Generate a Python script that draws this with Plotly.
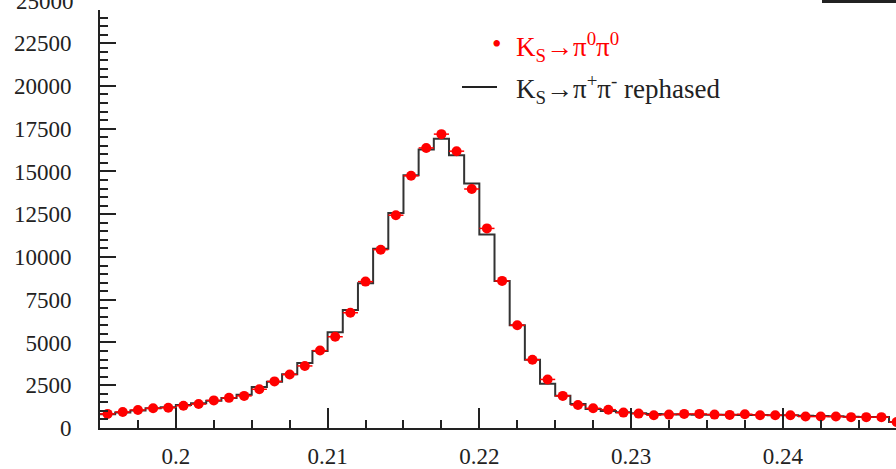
import numpy as np
import plotly.graph_objects as go

# ---- data ----
bin_width = 0.001
bin_start = 0.195
# K_S -> pi0 pi0 (red points), one per bin (bin 53 partly outside the view)
pi0pi0 = [824, 939, 1054, 1152, 1187, 1302, 1400, 1613, 1763, 1878,
          2264, 2724, 3128, 3629, 4527, 5334, 6739, 8559, 10426, 12442,
          14746, 16376, 17182, 16186, 13974, 11670, 8600, 6008, 3992, 2840,
          1878, 1342, 1152, 1071, 899, 841, 749, 783, 824, 824,
          783, 766, 806, 749, 749, 749, 668, 668, 668, 634,
          634, 634, 350]
# K_S -> pi+ pi- rephased (black step histogram)
pipi = [800, 900, 1030, 1150, 1220, 1350, 1450, 1600, 1750, 1950,
        2400, 2700, 3150, 3800, 4500, 5600, 6900, 8470, 10480, 12570,
        14780, 16280, 16910, 15950, 14300, 11320, 8600, 6008, 3992, 2590,
        1880, 1400, 1110, 1000, 920, 860, 820, 800, 790, 780,
        770, 770, 760, 760, 750, 740, 720, 700, 680, 660,
        650, 640, 350]
x_ticks = [0.2, 0.21, 0.22, 0.23, 0.24]
y_ticks = [0, 2500, 5000, 7500, 10000, 12500, 15000, 17500, 20000, 22500]

n = len(pi0pi0)
centers = np.round(bin_start + bin_width * (np.arange(n) + 0.5), 5)
edges = np.round(bin_start + bin_width * np.arange(n + 1), 5)

FONT = "Liberation Serif"

fig = go.Figure()
fig.add_trace(go.Scatter(
    x=list(edges), y=pipi + [pipi[-1]], mode="lines", line_shape="hv",
    line=dict(color="#333333", width=2), showlegend=False,
    hoverinfo="skip"))
fig.add_trace(go.Scatter(
    x=list(centers), y=pi0pi0, mode="markers",
    marker=dict(color="#ff0000", size=10),
    error_x=dict(type="constant", value=bin_width / 2, color="#ff0000",
                 thickness=1.5, width=0),
    showlegend=False))

fig.update_layout(
    width=896, height=469,
    margin=dict(l=100, r=0, t=10, b=35),
    paper_bgcolor="white", plot_bgcolor="white",
    font=dict(family=FONT, size=23, color="#222222"),
    xaxis=dict(range=[0.195, 0.24746], tickvals=x_ticks,
               ticktext=[str(v) for v in x_ticks],
               tickfont=dict(family=FONT, size=23, color="#222222"),
               ticks="inside", ticklen=20, tickwidth=1.5, tickcolor="#222",
               minor=dict(dtick=0.0025, ticks="inside", ticklen=8,
                          tickwidth=1.5, tickcolor="#222"),
               showline=True, linecolor="#222", linewidth=2,
               showgrid=False, zeroline=False, ticklabelstandoff=6),
    yaxis=dict(range=[0, 24440], tickvals=y_ticks,
               ticktext=[str(v) for v in y_ticks],
               tickfont=dict(family=FONT, size=23, color="#222222"),
               ticks="inside", ticklen=16, tickwidth=1.5, tickcolor="#222",
               minor=dict(dtick=500, ticks="inside", ticklen=8,
                          tickwidth=1.5, tickcolor="#222"),
               showline=True, linecolor="#222", linewidth=2,
               showgrid=False, zeroline=False, ticklabelstandoff=22),
)

# pixel -> paper helpers (plot area: left 100, width 796, top 10, height 424)
plot_l, plot_w, plot_t, plot_h = 100, 796, 10, 424
def px(xp):
    return (xp - plot_l) / plot_w
def py(yp):
    return 1 - (yp - plot_t) / plot_h

# partially visible 25000 label at the top edge (cut off as in the source)
fig.add_annotation(x=px(76), y=py(1), xref="paper", yref="paper",
                   text="25000", showarrow=False, xanchor="right",
                   yanchor="middle",
                   font=dict(family=FONT, size=23, color="#222222"))

# legend (drawn as text)
fig.add_annotation(x=px(496), y=py(44), xref="paper", yref="paper",
                   text="•", showarrow=False, xanchor="center",
                   yanchor="middle",
                   font=dict(family=FONT, size=27, color="#ff0000"))
fig.add_annotation(
    x=px(514), y=py(48), xref="paper", yref="paper",
    text="K<sub>S</sub>→π<sup>0</sup>π<sup>0</sup>",
    showarrow=False, xanchor="left", yanchor="middle",
    font=dict(family=FONT, size=27, color="#ff0000"))
fig.add_annotation(
    x=px(514), y=py(90), xref="paper", yref="paper",
    text="K<sub>S</sub>→π<sup>+</sup>π<sup>-</sup> rephased",
    showarrow=False, xanchor="left", yanchor="middle",
    font=dict(family=FONT, size=27, color="#222222"))

fig.add_shape(type="line", xref="paper", yref="paper",
              x0=px(462), x1=px(497), y0=py(88), y1=py(88),
              line=dict(color="#222222", width=2))
# frame fragment at top right
fig.add_shape(type="line", xref="paper", yref="paper",
              x0=px(822), x1=px(896), y0=py(1.5), y1=py(1.5),
              line=dict(color="#222222", width=3))

fig.write_html("out.html")
